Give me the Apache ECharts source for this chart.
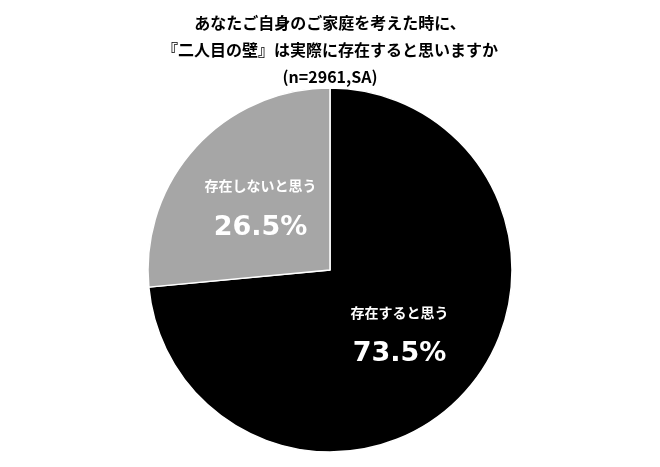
<!DOCTYPE html>
<html><head><meta charset="utf-8">
<script src="https://cdn.jsdelivr.net/npm/echarts@6/dist/echarts.min.js"></script>
<style>html,body{margin:0;padding:0;background:#fff}#c{width:660px;height:467px}</style>
</head><body><div id="c"></div>
<script>
const categories = ['存在すると思う', '存在しないと思う'];
const values = [73.5, 26.5];
const colors = ['#000000', '#a6a6a6'];
const titleLines = ['あなたご自身のご家庭を考えた時に、', '『二人目の壁』は実際に存在すると思いますか', '(n=2961,SA)'];

const chart = echarts.init(document.getElementById('c'));
chart.setOption({
  animation: false,
  title: {
    text: titleLines.join('\n'),
    left: 'center', top: 4,
    textStyle: { fontSize: 16, fontWeight: 'bold', color: '#000', lineHeight: 27, fontFamily: 'Noto Sans CJK JP' }
  },
  series: [{
    type: 'pie',
    center: [330, 270],
    radius: [0, 182],
    startAngle: 90,
    clockwise: true,
    itemStyle: { borderColor: '#fff', borderWidth: 1.5 },
    label: {
      position: 'inside',
      formatter: p => '{a|' + p.name + '}\n{b|' + p.value.toFixed(1) + '%}',
      rich: {
        a: { color: '#fff', fontSize: 14, fontWeight: 'bold', fontFamily: 'Noto Sans CJK JP', lineHeight: 42 },
        b: { color: '#fff', fontSize: 27, fontWeight: 'bold', fontFamily: 'DejaVu Sans', lineHeight: 42 }
      }
    },
    labelLine: { show: false },
    data: categories.map((n, i) => ({ name: n, value: values[i], itemStyle: { color: colors[i] } }))
  }]
});
</script></body></html>
